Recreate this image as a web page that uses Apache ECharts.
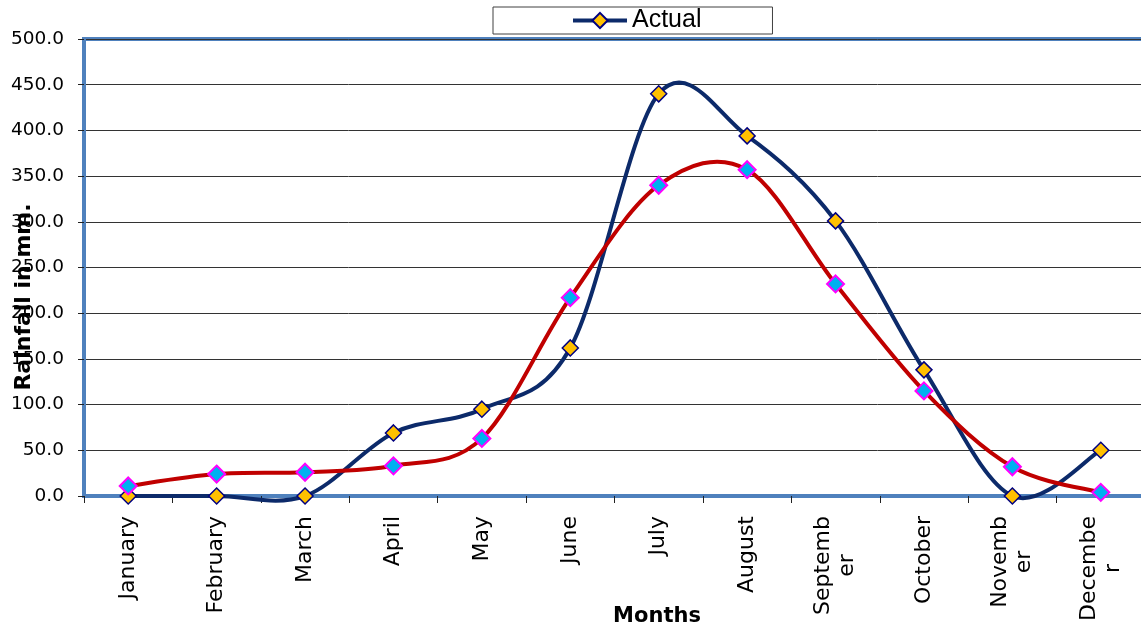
<!DOCTYPE html>
<html><head><meta charset="utf-8">
<script src="https://cdn.jsdelivr.net/npm/echarts@6/dist/echarts.min.js"></script>
<style>html,body{margin:0;padding:0;background:#fff}#c{width:1141px;height:632px}</style>
</head><body><div id="c"></div>
<script>
const months = ['January','February','March','April','May','June','July','August','Septemb\ner','October','Novemb\ner','Decembe\nr'];
const actual = [0, 0, 0, 69, 95, 162, 440, 394, 301, 138, 0, 50];
const normal = [11, 24, 26, 33, 63, 217, 340, 357, 232, 115, 32, 4];
const legendNames = ['Actual'];
const yAxisTitle = 'Rainfall in mm.';
const xAxisTitle = 'Months';

const sans = '"DejaVu Sans", Verdana, sans-serif';

// Smooth curve (Catmull-Rom style, like a spreadsheet's smoothed line) drawn through the axis scales
function smoothCurve(values, color, width) {
  return function (params, api) {
    if (params.dataIndex !== 0) return null;
    const p = values.map((v, i) => api.coord([i, v]));
    const n = p.length;
    const P = i => p[Math.max(0, Math.min(n - 1, i))];
    const children = [];
    for (let i = 0; i < n - 1; i++) {
      const a = P(i - 1), b = P(i), c = P(i + 1), d = P(i + 2);
      children.push({
        type: 'bezierCurve',
        shape: {
          x1: b[0], y1: b[1], x2: c[0], y2: c[1],
          cpx1: b[0] + (c[0] - a[0]) / 6, cpy1: b[1] + (c[1] - a[1]) / 6,
          cpx2: c[0] - (d[0] - b[0]) / 6, cpy2: c[1] - (d[1] - b[1]) / 6
        },
        style: {stroke: color, lineWidth: width, fill: null, lineCap: 'round'}
      });
    }
    return {type: 'group', children: children};
  };
}

const chart = echarts.init(document.getElementById('c'), null, {renderer: 'canvas'});
chart.setOption({
  animation: false,
  backgroundColor: '#ffffff',
  legend: {
    data: legendNames,
    left: 493, top: 7,
    padding: [1, 71, 1, 78],
    itemWidth: 54, itemHeight: 19,
    borderColor: '#404040', borderWidth: 1,
    backgroundColor: '#fff',
    lineStyle: {color: '#0C2A6A', width: 4, opacity: 1},
    textStyle: {fontFamily: '"Liberation Sans", Arial, sans-serif', fontSize: 25, color: '#000'}
  },
  grid: {
    left: 84, top: 39, right: -4, bottom: 136,
    outerBoundsMode: 'none',
    show: true, borderColor: '#4F81BD', borderWidth: 4, backgroundColor: 'transparent'
  },
  xAxis: {
    type: 'category',
    data: months,
    boundaryGap: true,
    axisLine: {show: true, lineStyle: {color: '#4F81BD', width: 4}},
    axisTick: {show: true, length: 7, alignWithLabel: false, lineStyle: {color: '#222', width: 1}},
    axisLabel: {
      rotate: 90, margin: 20, interval: 0,
      color: '#000',
      formatter: v => v.split('\n').map(s => '{c|' + s + '}').join('\n'),
      rich: {c: {align: 'center', fontSize: 22, fontFamily: sans, color: '#000', lineHeight: 24}}
    },
    splitLine: {show: false}
  },
  yAxis: {
    type: 'value',
    min: 0, max: 500, interval: 50,
    axisLine: {show: true, lineStyle: {color: '#4F81BD', width: 4}},
    axisTick: {show: true, length: 6, lineStyle: {color: '#222', width: 1}},
    axisLabel: {margin: 20, fontSize: 18.5, fontFamily: sans, color: '#000', formatter: v => v.toFixed(1)},
    splitLine: {show: true, lineStyle: {color: '#333', width: 1}}
  },
  graphic: [
    {type: 'text', x: 24, y: 297, rotation: Math.PI / 2,
     style: {text: yAxisTitle, align: 'center', verticalAlign: 'middle', fontSize: 22, fontWeight: 'bold', fontFamily: sans, fill: '#000'}},
    {type: 'text', x: 657, y: 617,
     style: {text: xAxisTitle, align: 'center', verticalAlign: 'middle', fontSize: 21, fontWeight: 'bold', fontFamily: sans, fill: '#000'}}
  ],
  series: [
    {
      name: 'ActualCurve', type: 'custom', data: actual.map((v, i) => [i, v]),
      renderItem: smoothCurve(actual, '#0C2A6A', 4), z: 2, silent: true
    },
    {
      name: 'NormalCurve', type: 'custom', data: normal.map((v, i) => [i, v]),
      renderItem: smoothCurve(normal, '#C00000', 4), z: 3, silent: true
    },
    {
      name: 'Actual', type: 'line', data: actual, clip: false,
      symbol: 'diamond', symbolSize: 16,
      lineStyle: {color: '#0C2A6A', width: 4, opacity: 0},
      itemStyle: {color: '#FFC000', borderColor: '#000080', borderWidth: 1.5},
      z: 4
    },
    {
      name: 'Normal', type: 'line', data: normal, clip: false,
      symbol: 'diamond', symbolSize: 17,
      lineStyle: {color: '#C00000', width: 4, opacity: 0},
      itemStyle: {color: '#00B0F0', borderColor: '#FF00FF', borderWidth: 2},
      z: 5
    }
  ]
});
</script></body></html>
